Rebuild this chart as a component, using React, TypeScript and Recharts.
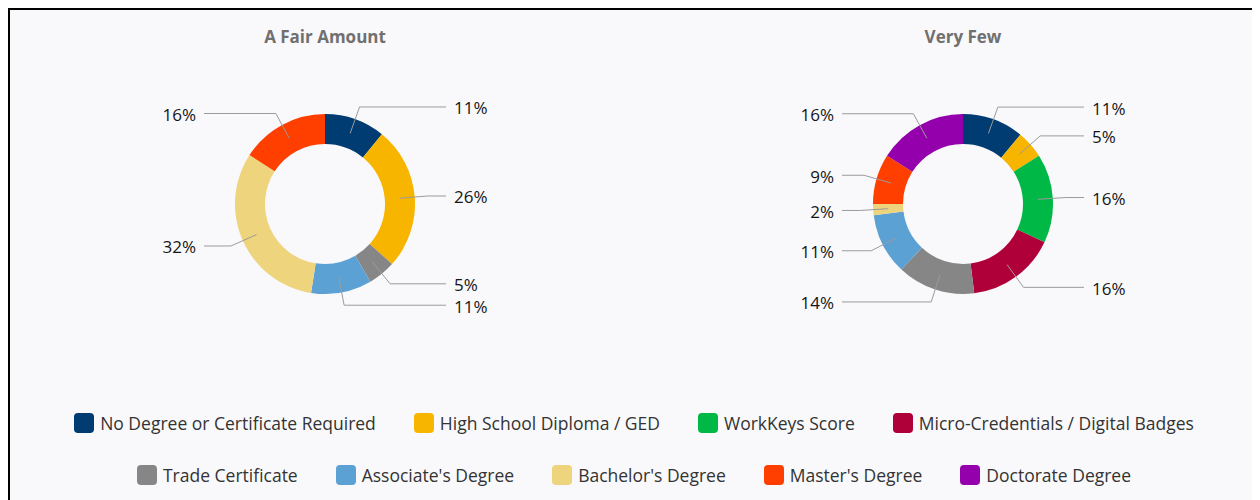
import React from "react";
import { PieChart, Pie, Cell } from "recharts";

const categories = [
  "No Degree or Certificate Required",
  "High School Diploma / GED",
  "WorkKeys Score",
  "Micro-Credentials / Digital Badges",
  "Trade Certificate",
  "Associate's Degree",
  "Bachelor's Degree",
  "Master's Degree",
  "Doctorate Degree",
];

const colors = [
  "#003b71",
  "#f7b500",
  "#00b845",
  "#b0003a",
  "#868686",
  "#5ca1d3",
  "#eed47d",
  "#ff3f00",
  "#9500ad",
];

const chartTitles = ["A Fair Amount", "Very Few"];
const fairAmount = [11, 26, 0, 0, 5, 11, 32, 16, 0];
const veryFew = [11, 5, 16, 16, 14, 11, 2, 9, 16];

const FONT = "'Open Sans', sans-serif";
const WIDTH = 1248;
const HEIGHT = 390;
const CENTERS = [315, 953];
const CY = 194;
const INNER = 60;
const OUTER = 90;
const ELBOW = 13;
const REACH = 121;
const MIN_GAP = 22;
const RAD = Math.PI / 180;

type Slice = { name: string; value: number; color: string };

const toSlices = (values: number[]): Slice[] =>
  categories
    .map((name, i) => ({ name, value: values[i], color: colors[i] }))
    .filter((d) => d.value > 0);

const pies = [toSlices(fairAmount), toSlices(veryFew)];

// where each text label sits vertically, nudged apart when two are too close
function labelRows(slices: Slice[]) {
  const total = slices.reduce((s, d) => s + d.value, 0);
  let acc = 0;
  const items = slices.map((d) => {
    const mid = 90 - ((acc + d.value / 2) / total) * 360;
    acc += d.value;
    const cos = Math.cos(-mid * RAD);
    const sin = Math.sin(-mid * RAD);
    return { name: d.name, right: cos >= 0, y: CY + (OUTER + ELBOW) * sin };
  });
  const out: Record<string, number> = {};
  [true, false].forEach((side) => {
    const list = items.filter((it) => it.right === side).sort((a, b) => a.y - b.y);
    let last = -Infinity;
    list.forEach((it) => {
      const y = Math.max(it.y, last + MIN_GAP);
      out[it.name] = y;
      last = y;
    });
  });
  return out;
}

const rows = pies.map((p) => labelRows(p));

const makeLabel = (textRows: Record<string, number>) => (props: any) => {
  const { cx, cy, midAngle, innerRadius, outerRadius, value } = props;
  const name = props.name ?? props.payload?.name;
  const cos = Math.cos(-midAngle * RAD);
  const sin = Math.sin(-midAngle * RAD);
  const mr = (innerRadius + outerRadius) / 2;
  const sx = cx + mr * cos;
  const sy = cy + mr * sin;
  const ex = cx + (outerRadius + ELBOW) * cos;
  const ey = cy + (outerRadius + ELBOW) * sin;
  const right = cos >= 0;
  const hx = cx + (right ? REACH : -REACH);
  const ty = textRows[name] ?? ey;
  return (
    <g>
      <polyline
        points={`${sx},${sy} ${ex},${ey} ${hx},${ey}`}
        fill="none"
        stroke="#9b9b9b"
        strokeWidth={1}
      />
      <text
        x={hx + (right ? 8 : -8)}
        y={ty + 1}
        textAnchor={right ? "start" : "end"}
        dominantBaseline="central"
        fontFamily={FONT}
        fontSize={17}
        fill="#151515"
      >
        {value}%
      </text>
    </g>
  );
};

function LegendRow({ items, top }: { items: number[]; top: number }) {
  return (
    <div
      style={{
        position: "absolute",
        left: 0,
        top,
        width: WIDTH,
        display: "flex",
        justifyContent: "center",
        gap: 38,
      }}
    >
      {items.map((i) => (
        <div key={categories[i]} style={{ display: "flex", alignItems: "center" }}>
          <span
            style={{
              width: 20,
              height: 20,
              borderRadius: 4,
              background: colors[i],
              marginRight: 6,
            }}
          />
          <span style={{ fontSize: 17.5, color: "#333", lineHeight: "20px" }}>
            {categories[i]}
          </span>
        </div>
      ))}
    </div>
  );
}

export default function App() {
  return (
    <div
      style={{
        position: "relative",
        width: WIDTH,
        height: 500,
        border: "2px solid #000",
        background: "#f9f9fb",
        fontFamily: FONT,
      }}
    >
      {chartTitles.map((t, i) => (
        <div
          key={t}
          style={{
            position: "absolute",
            left: CENTERS[i] - 150,
            width: 300,
            top: 17,
            lineHeight: "20px",
            textAlign: "center",
            fontWeight: 700,
            fontSize: 17,
            color: "#707070",
          }}
        >
          {t}
        </div>
      ))}
      <div style={{ position: "absolute", left: 0, top: 0 }}>
        <PieChart
          width={WIDTH}
          height={HEIGHT}
          margin={{ top: 0, right: 0, bottom: 0, left: 0 }}
        >
          {pies.map((slices, i) => (
            <Pie
              key={chartTitles[i]}
              data={slices}
              dataKey="value"
              nameKey="name"
              cx={CENTERS[i]}
              cy={CY}
              innerRadius={INNER}
              outerRadius={OUTER}
              startAngle={90}
              endAngle={-270}
              stroke="none"
              labelLine={false}
              label={makeLabel(rows[i])}
              isAnimationActive={false}
            >
              {slices.map((d) => (
                <Cell key={d.name} fill={d.color} />
              ))}
            </Pie>
          ))}
        </PieChart>
      </div>
      <LegendRow items={[0, 1, 2, 3]} top={403} />
      <LegendRow items={[4, 5, 6, 7, 8]} top={455} />
    </div>
  );
}
